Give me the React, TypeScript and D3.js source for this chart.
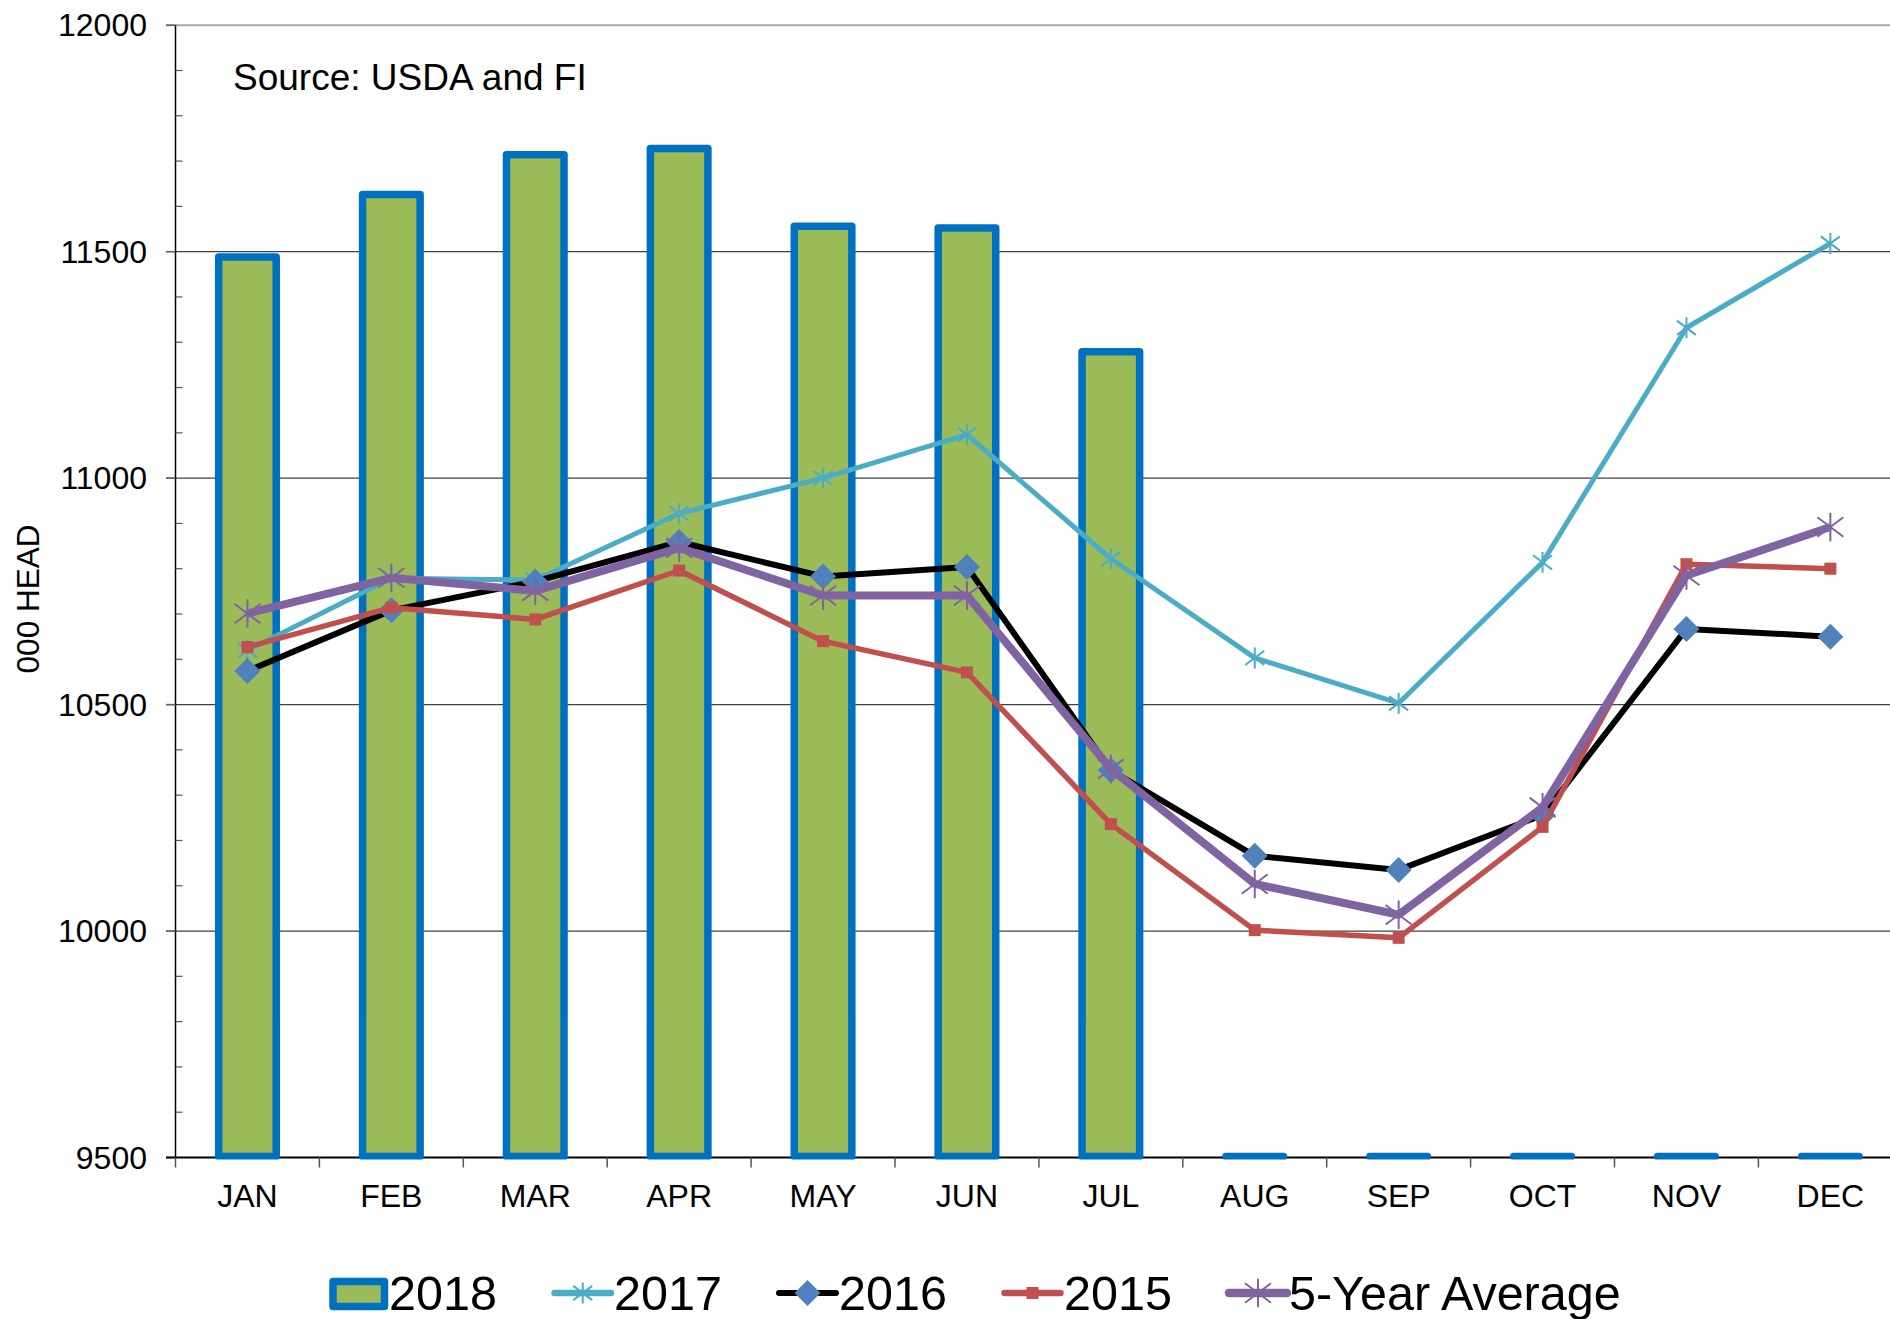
import React from "react";
import * as d3 from "d3";

const months = ["JAN", "FEB", "MAR", "APR", "MAY", "JUN", "JUL", "AUG", "SEP", "OCT", "NOV", "DEC"];
const values2018 = [11488, 11626, 11714, 11728, 11556, 11552, 11279, 0, 0, 0, 0, 0];
const values2017 = [10620, 10779, 10775, 10922, 11000, 11096, 10822, 10603, 10503, 10814, 11332, 11518];
const values2016 = [10574, 10708, 10772, 10859, 10783, 10804, 10355, 10166, 10135, 10256, 10667, 10650];
const values2015 = [10627, 10714, 10688, 10796, 10640, 10571, 10236, 10002, 9985, 10230, 10810, 10800];
const values5yr = [10701, 10780, 10751, 10846, 10741, 10741, 10358, 10104, 10036, 10273, 10785, 10892];
const yTicks = [9500, 10000, 10500, 11000, 11500, 12000];
const seriesNames = ["2018", "2017", "2016", "2015", "5-Year Average"];
const yLabel = "000 HEAD";
const sourceText = "Source: USDA and FI";

const FONT = "'Liberation Sans', Arial, sans-serif";

type MarkerKind = "asterisk" | "diamond" | "square";

function Marker({ kind, cx, cy, color, size }: { kind: MarkerKind; cx: number; cy: number; color: string; size: number }) {
  if (kind === "diamond") {
    const s = size;
    return <path d={`M${cx},${cy - s}L${cx + s},${cy}L${cx},${cy + s}L${cx - s},${cy}Z`} fill={color} />;
  }
  if (kind === "square") {
    const s = size;
    return <rect x={cx - s} y={cy - s} width={2 * s} height={2 * s} fill={color} />;
  }
  const w = size;
  const h = size * 1.1;
  return (
    <path
      d={`M${cx - w},${cy - w * 0.75}L${cx + w},${cy + w * 0.75}M${cx - w},${cy + w * 0.75}L${cx + w},${cy - w * 0.75}M${cx},${cy - h}L${cx},${cy + h}`}
      stroke={color}
      strokeWidth={2}
      fill="none"
    />
  );
}

export default function App() {
  const W = 1890;
  const H = 1319;
  const left = 175.5;
  const bandW = 143.9;
  const yTop = 25.2;
  const yBottom = 1157.5;

  const x = d3.scaleBand<string>().domain(months).range([left, left + bandW * 12]).padding(0);
  const y = d3.scaleLinear().domain([9500, 12000]).range([yBottom, yTop]);
  const cx = (i: number) => (x(months[i]) as number) + x.bandwidth() / 2;
  const barW = x.bandwidth() * 0.4;
  const minorTicks = d3.range(9500, 12001, 100);

  const lineGen = d3
    .line<number>()
    .x((_, i) => cx(i))
    .y((d) => y(d));

  const lineSeries = [
    { name: seriesNames[1], values: values2017, color: "#4BACC6", width: 5, marker: "asterisk" as MarkerKind, msize: 9.5, mcolor: "#4BACC6" },
    { name: seriesNames[2], values: values2016, color: "#000000", width: 6, marker: "diamond" as MarkerKind, msize: 13, mcolor: "#4F81BD" },
    { name: seriesNames[3], values: values2015, color: "#C0504D", width: 5.5, marker: "square" as MarkerKind, msize: 6, mcolor: "#C0504D" },
    { name: seriesNames[4], values: values5yr, color: "#8064A2", width: 8, marker: "asterisk" as MarkerKind, msize: 13, mcolor: "#8064A2" },
  ];

  const legendLines = [
    { x0: 554.5, x1: 611, tx: 614, width: 6.5 },
    { x0: 779, x1: 836, tx: 839, width: 6 },
    { x0: 1004.5, x1: 1060.5, tx: 1064, width: 6.5 },
    { x0: 1229, x1: 1287, tx: 1289, width: 8.5 },
  ];
  const legendY = 1293;

  return (
    <svg width={W} height={H} style={{ position: "absolute", left: 0, top: 0, background: "#fff" }} fontFamily={FONT}>
      <style>{`body{margin:0;overflow:hidden}`}</style>
      <rect x={0} y={0} width={W} height={H} fill="#fff" />
      <defs>
        <clipPath id="plotClip">
          <rect x={left - 20} y={0} width={W} height={yBottom + 2} />
        </clipPath>
      </defs>

      {/* gridlines */}
      {yTicks.slice(1).map((t) => (
        <line
          key={"g" + t}
          x1={166}
          x2={W}
          y1={y(t)}
          y2={y(t)}
          stroke={t === 12000 ? "#a6a6a6" : "#404040"}
          strokeWidth={t === 12000 ? 2 : 1.2}
        />
      ))}

      {/* y axis */}
      <line x1={left} x2={left} y1={yTop} y2={yBottom} stroke="#000" strokeWidth={1.5} />
      {minorTicks
        .filter((t) => t % 500 !== 0)
        .map((t) => (
          <line key={"m" + t} x1={left} x2={left + 7} y1={y(t)} y2={y(t)} stroke="#555" strokeWidth={1.2} />
        ))}
      {yTicks.map((t) => (
        <g key={"yl" + t}>
          <line x1={166} x2={left} y1={y(t)} y2={y(t)} stroke="#666" strokeWidth={1.5} />
          <text x={147} y={y(t)} dy="0.35em" textAnchor="end" fontSize={32} fill="#000">
            {t}
          </text>
        </g>
      ))}
      <text transform={`translate(38.5,599) rotate(-90)`} textAnchor="middle" fontSize={31.5} fill="#000">
        {yLabel}
      </text>

      {/* x axis */}
      <line x1={166} x2={W} y1={yBottom} y2={yBottom} stroke="#000" strokeWidth={2} />
      {d3.range(0, 13).map((i) => (
        <line key={"xt" + i} x1={left + i * bandW} x2={left + i * bandW} y1={yBottom} y2={yBottom + 10} stroke="#555" strokeWidth={1.5} />
      ))}
      {months.map((m, i) => (
        <text key={m} x={cx(i)} y={1207} textAnchor="middle" fontSize={32} fill="#000">
          {m}
        </text>
      ))}

      {/* bars */}
      <g clipPath="url(#plotClip)">
        {values2018.map((v, i) => {
          const x0 = cx(i) - barW / 2;
          const x1 = cx(i) + barW / 2;
          const yv = y(Math.max(v, 9500));
          const y0 = y(9500) - 1;
          return (
            <path
              key={"b" + i}
              d={`M${x0},${y0}V${Math.min(yv, y0)}H${x1}V${y0}Z`}
              fill="#9BBB59"
              stroke="#0070C0"
              strokeWidth={7.5}
              strokeLinejoin="round"
            />
          );
        })}
      </g>

      {/* lines */}
      {lineSeries.map((s) => (
        <g key={s.name}>
          <path d={lineGen(s.values) as string} fill="none" stroke={s.color} strokeWidth={s.width} strokeLinejoin="round" />
          {s.values.map((v, i) => (
            <Marker key={i} kind={s.marker} cx={cx(i)} cy={y(v)} color={s.mcolor} size={s.msize} />
          ))}
        </g>
      ))}

      {/* source */}
      <text x={233} y={90} fontSize={37} fill="#000">
        {sourceText}
      </text>

      {/* legend */}
      <rect x={333} y={1281.5} width={51.5} height={25} fill="#9BBB59" stroke="#0070C0" strokeWidth={7.5} strokeLinejoin="round" />
      <text x={389} y={1310} fontSize={48.5} fill="#000">
        {seriesNames[0]}
      </text>
      {lineSeries.map((s, k) => {
        const L = legendLines[k];
        return (
          <g key={"lg" + k}>
            <line x1={L.x0} x2={L.x1} y1={legendY} y2={legendY} stroke={s.color} strokeWidth={L.width} strokeLinecap="round" />
            <Marker kind={s.marker} cx={(L.x0 + L.x1) / 2} cy={legendY} color={s.mcolor} size={s.msize} />
            <text x={L.tx} y={1310} fontSize={48.5} fill="#000">
              {s.name}
            </text>
          </g>
        );
      })}
    </svg>
  );
}
